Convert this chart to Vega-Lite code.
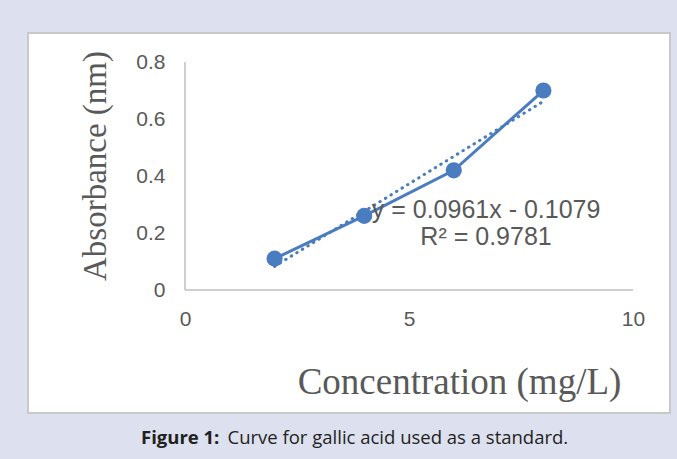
{
  "$schema": "https://vega.github.io/schema/vega-lite/v6.json",
  "width": 642,
  "height": 380,
  "autosize": {"type": "none"},
  "padding": {"left": 28, "top": 33, "right": 7, "bottom": 46},
  "background": "#dde1ef",
  "config": {"view": {"fill": "#ffffff", "stroke": "#c9c9c9", "strokeWidth": 2}},
  "title": {
    "text": "Figure 1:",
    "subtitle": "\u200b\u00a0\u00a0\u00a0\u00a0\u00a0\u00a0\u00a0\u00a0\u00a0\u00a0\u00a0\u00a0\u00a0\u00a0\u00a0\u00a0\u00a0\u00a0Curve for gallic acid used as a standard.",
    "orient": "bottom",
    "anchor": "start",
    "frame": "group",
    "align": "left",
    "dx": 113,
    "offset": 16,
    "font": "Open Sans",
    "fontSize": 18.5,
    "fontWeight": "bold",
    "color": "#231f20",
    "subtitleFont": "Open Sans",
    "subtitleFontSize": 18.5,
    "subtitleFontWeight": "normal",
    "subtitleColor": "#231f20",
    "subtitlePadding": -18.5
  },
  "datasets": {
    "points": [
      {"conc": 2, "abs": 0.11},
      {"conc": 4, "abs": 0.26},
      {"conc": 6, "abs": 0.42},
      {"conc": 8, "abs": 0.70}
    ],
    "axislines": [
      {"conc": 0, "conc2": 10, "abs": 0, "abs2": 0},
      {"conc": 0, "conc2": 0, "abs": 0, "abs2": 0.8}
    ],
    "equation": [
      {"label": "y = 0.0961x - 0.1079\nR\u00b2 = 0.9781"}
    ]
  },
  "layer": [
    {
      "data": {"name": "axislines"},
      "mark": {"type": "rule", "color": "#bfbfbf", "strokeWidth": 1.5},
      "encoding": {
        "x": {
          "field": "conc",
          "type": "quantitative",
          "scale": {"domain": [-3.504, 10.826], "nice": false, "zero": false},
          "axis": {
            "values": [0, 5, 10],
            "format": "d",
            "offset": -123,
            "domain": false,
            "ticks": false,
            "tickSize": 0,
            "grid": false,
            "labelFlush": false,
            "labelOverlap": false,
            "labelPadding": 18,
            "labelFont": "Liberation Sans",
            "labelFontSize": 21,
            "labelColor": "#595959",
            "title": "Concentration (mg/L)",
            "titleFont": "Liberation Serif",
            "titleFontSize": 37,
            "titleFontWeight": "normal",
            "titleColor": "#595959",
            "titleX": 431,
            "titleY": 103,
            "titleAlign": "center",
            "titleBaseline": "alphabetic"
          }
        },
        "y": {
          "field": "abs",
          "type": "quantitative",
          "scale": {"domain": [-0.4315, 0.9018], "nice": false, "zero": false},
          "axis": {
            "values": [0, 0.2, 0.4, 0.6, 0.8],
            "format": ".1~f",
            "offset": -157,
            "domain": false,
            "ticks": false,
            "tickSize": 0,
            "grid": false,
            "labelOverlap": false,
            "labelPadding": 20,
            "labelFont": "Liberation Sans",
            "labelFontSize": 21,
            "labelColor": "#595959",
            "title": "Absorbance (nm)",
            "titleFont": "Liberation Serif",
            "titleFontSize": 33,
            "titleFontWeight": "normal",
            "titleColor": "#595959",
            "titleX": -80,
            "titleY": 132.5,
            "titleAngle": -90,
            "titleAlign": "center",
            "titleBaseline": "alphabetic"
          }
        },
        "x2": {"field": "conc2"},
        "y2": {"field": "abs2"}
      }
    },
    {
      "data": {"name": "points"},
      "transform": [{"regression": "abs", "on": "conc"}],
      "mark": {"type": "line", "color": "#4a7cc0", "strokeWidth": 3, "strokeDash": [0.5, 6], "strokeCap": "round"},
      "encoding": {
        "x": {"field": "conc", "type": "quantitative"},
        "y": {"field": "abs", "type": "quantitative"}
      }
    },
    {
      "data": {"name": "points"},
      "mark": {
        "type": "line",
        "color": "#4a7cc0",
        "strokeWidth": 3,
        "point": {"filled": true, "size": 260, "color": "#4a7cc0", "opacity": 1}
      },
      "encoding": {
        "x": {"field": "conc", "type": "quantitative"},
        "y": {"field": "abs", "type": "quantitative"}
      }
    },
    {
      "data": {"name": "equation"},
      "mark": {
        "type": "text",
        "font": "Liberation Sans",
        "fontSize": 25,
        "color": "#595959",
        "align": "center",
        "baseline": "middle",
        "lineBreak": "\n",
        "lineHeight": 27
      },
      "encoding": {
        "x": {"datum": 6.72, "type": "quantitative"},
        "y": {"datum": 0.281, "type": "quantitative"},
        "text": {"field": "label", "type": "nominal"}
      }
    }
  ]
}
